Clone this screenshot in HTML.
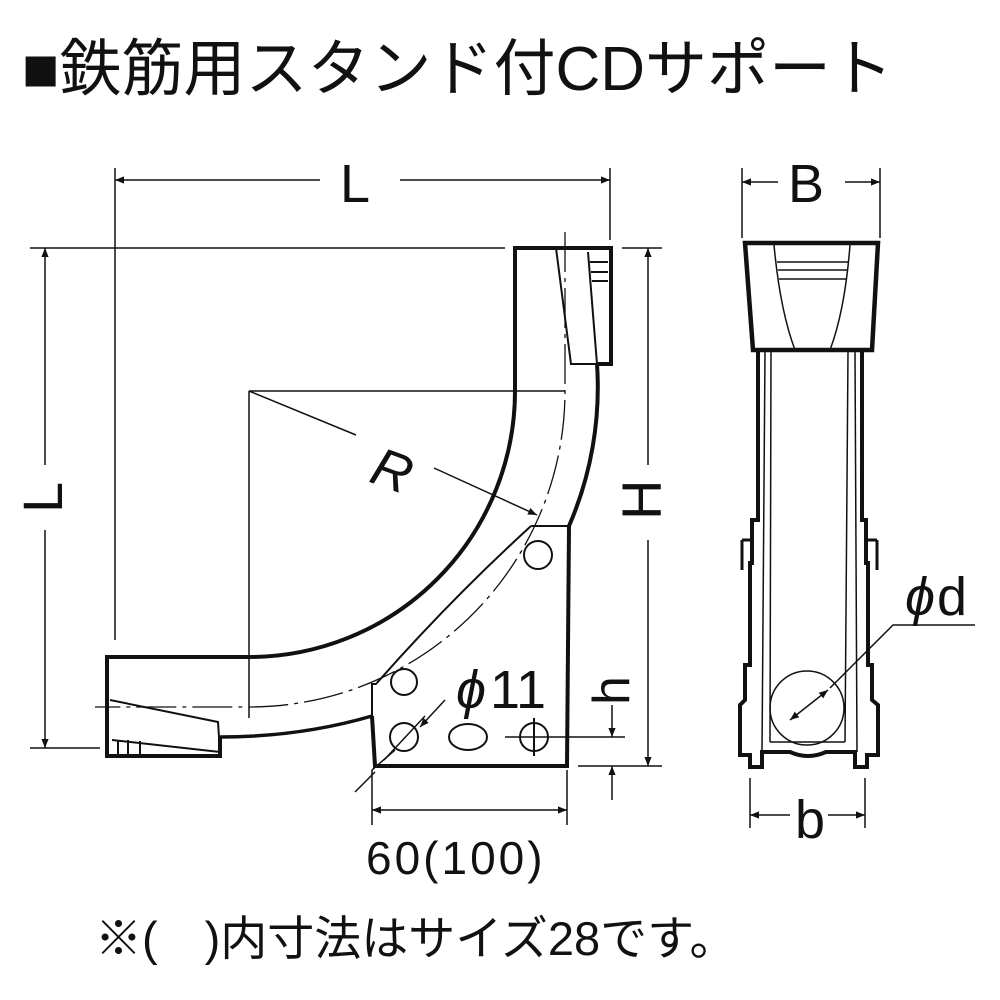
<!DOCTYPE html>
<html><head><meta charset="utf-8"><style>
html,body{margin:0;padding:0;background:#fff;}
svg{display:block}
text{font-family:"Liberation Sans","Noto Sans CJK JP",sans-serif;fill:#111}
</style></head><body>
<svg width="1000" height="1000" viewBox="0 0 1000 1000" xmlns="http://www.w3.org/2000/svg">
<defs>
<marker id="a" viewBox="0 0 10 10" refX="10" refY="5" markerWidth="9" markerHeight="9" orient="auto-start-reverse" markerUnits="userSpaceOnUse"><path d="M0,1 L10,5 L0,9 Z" fill="#111"/></marker>
</defs>
<text x="22" y="90" font-size="62">■鉄筋用スタンド付CDサポート</text>

<g stroke="#111" fill="none" stroke-width="1.5">
<line x1="115" y1="168" x2="115" y2="640"/>
<line x1="610" y1="168" x2="610" y2="240"/>
<line x1="30" y1="248" x2="505" y2="248"/>
<line x1="30" y1="748" x2="100" y2="748"/>
<line x1="622" y1="248" x2="662" y2="248"/>
<line x1="578" y1="766" x2="662" y2="766"/>
<line x1="505" y1="737" x2="625" y2="737"/>
<line x1="372" y1="770" x2="372" y2="825"/>
<line x1="567" y1="770" x2="567" y2="825"/>
<line x1="742" y1="168" x2="742" y2="238"/>
<line x1="880" y1="168" x2="880" y2="238"/>
<line x1="750" y1="778" x2="750" y2="828"/>
<line x1="865" y1="778" x2="865" y2="828"/>
<line x1="115" y1="180" x2="320" y2="180" marker-start="url(#a)"/>
<line x1="400" y1="180" x2="610" y2="180" marker-end="url(#a)"/>
<line x1="45" y1="248" x2="45" y2="465" marker-start="url(#a)"/>
<line x1="45" y1="530" x2="45" y2="748" marker-end="url(#a)"/>
<line x1="648" y1="248" x2="648" y2="465" marker-start="url(#a)"/>
<line x1="648" y1="540" x2="648" y2="766" marker-end="url(#a)"/>
<line x1="612" y1="705" x2="612" y2="737" marker-end="url(#a)"/>
<line x1="612" y1="800" x2="612" y2="766" marker-end="url(#a)"/>
<line x1="372" y1="810" x2="567" y2="810" marker-start="url(#a)" marker-end="url(#a)"/>
<line x1="742" y1="182" x2="778" y2="182" marker-start="url(#a)"/>
<line x1="845" y1="182" x2="880" y2="182" marker-end="url(#a)"/>
<line x1="750" y1="815" x2="790" y2="815" marker-start="url(#a)"/>
<line x1="828" y1="815" x2="865" y2="815" marker-end="url(#a)"/>
<line x1="249" y1="391" x2="565" y2="391"/>
<line x1="249" y1="391" x2="249" y2="718"/>
<line x1="249" y1="391" x2="356" y2="435"/>
<line x1="434" y1="468" x2="537" y2="515" marker-end="url(#a)"/>
<line x1="445" y1="700" x2="420" y2="727" marker-end="url(#a)"/>
<line x1="355" y1="792" x2="375" y2="772" />
<line x1="372" y1="770" x2="395" y2="750"/>
<path d="M565,232 L565,391 A316,316 0 0 1 249,707 L95,707" stroke-dasharray="40,6,4,6" stroke-width="1.3"/>
</g>

<g stroke="#111" fill="none" stroke-width="4">
<path d="M515,391 L515,248 L611,248 L611,364 L597,364"/>
<path d="M515,391 A266,266 0 0 1 249,657 L107,657 L107,756 L220,756 L220,737"/>
<path d="M597,364 A348,348 0 0 1 569,526 L567,766 L375,766 L372,716"/>
<path d="M220,737 Q300,737 372,716" stroke-width="3.5"/>
</g>
<g stroke="#111" fill="none" stroke-width="2">
<path d="M556,248 L571,364 L597,364 L588,252"/>
<line x1="590" y1="262" x2="608" y2="262"/><line x1="591" y1="272" x2="608" y2="272"/><line x1="592" y1="281" x2="608" y2="281"/>
<path d="M110,700 L218,722 L220,752 L112,740"/>
<line x1="118" y1="740" x2="118" y2="755"/><line x1="128" y1="740" x2="128" y2="755"/><line x1="140" y1="741" x2="140" y2="755"/>
<path d="M531,526 L569,526"/>
<path d="M531,526 Q450,600 376,684 L372,684 L372,716"/>
<circle cx="538" cy="555" r="14"/>
<circle cx="404" cy="682" r="13"/>
<circle cx="404" cy="737" r="14"/>
<ellipse cx="468" cy="737" rx="19" ry="13"/>
<circle cx="534" cy="737" r="14"/>
<line x1="534" y1="718" x2="534" y2="756"/>
<line x1="384" y1="760" x2="425" y2="716" stroke-width="1.5"/>
</g>

<g stroke="#111" fill="none">
<path d="M745,243 L878,243 L872,350 L753,350 Z" stroke-width="4.5"/>
<path d="M774,245 Q780,310 795,350 M850,245 Q845,310 830,350" stroke-width="1.5"/>
<line x1="777" y1="262" x2="848" y2="262" stroke-width="1.5"/>
<line x1="778" y1="270" x2="847" y2="270" stroke-width="1.5"/>
<line x1="779" y1="279" x2="846" y2="279" stroke-width="1.5"/>
<path d="M758,350 L758,520 L752,520 L752,563 L750,563 L750,665 L745,665 L745,700 L740,705 L740,755 L750,755 L750,767 L762,767 L762,752 L790,752 Q808,760 826,752 L855,752 L855,767 L867,767 L867,755 L878,755 L878,705 L872,700 L872,665 L868,665 L868,563 L866,563 L866,520 L862,520 L862,350" stroke-width="4"/>
<line x1="765" y1="352" x2="762" y2="752" stroke-width="1.5"/>
<line x1="771" y1="352" x2="770" y2="742" stroke-width="1.5"/>
<line x1="848" y1="352" x2="845" y2="742" stroke-width="1.5"/>
<line x1="855" y1="352" x2="857" y2="752" stroke-width="1.5"/>
<line x1="770" y1="742" x2="845" y2="742" stroke-width="1.5"/>
<line x1="742" y1="540" x2="752" y2="540" stroke-width="3"/><line x1="742" y1="540" x2="742" y2="570" stroke-width="3"/>
<line x1="877" y1="540" x2="868" y2="540" stroke-width="3"/><line x1="877" y1="540" x2="877" y2="570" stroke-width="3"/>
<circle cx="807" cy="708" r="37" stroke-width="1.5"/>
<polyline points="830,688 893,625 975,625" stroke-width="1.5"/>
<line x1="790" y1="720" x2="828" y2="690" stroke-width="1.5" marker-start="url(#a)" marker-end="url(#a)"/>
</g>

<g font-size="54">
<text x="340" y="202">L</text>
<text x="788" y="202">B</text>
<text x="795" y="838">b</text>
<text x="905" y="615" font-style="italic">ϕ</text><text x="937" y="615">d</text>
<text x="456" y="708" font-style="italic">ϕ</text><text x="490" y="708">11</text>
<text x="373" y="490" font-style="italic" transform="rotate(20 395 470)">R</text>
<text transform="translate(28,495) rotate(-90)" x="-18" y="34" font-size="56">L</text>
<text transform="translate(623,500) rotate(-90)" x="-20" y="38" font-size="56">H</text>
<text transform="translate(593,690) rotate(-90)" x="-15" y="36" font-size="52">h</text>
<text x="366" y="874" font-size="46" letter-spacing="3">60(100)</text>
</g>
<text x="95" y="955" font-size="47">※(　)内寸法はサイズ28です。</text>
</svg>
</body></html>
